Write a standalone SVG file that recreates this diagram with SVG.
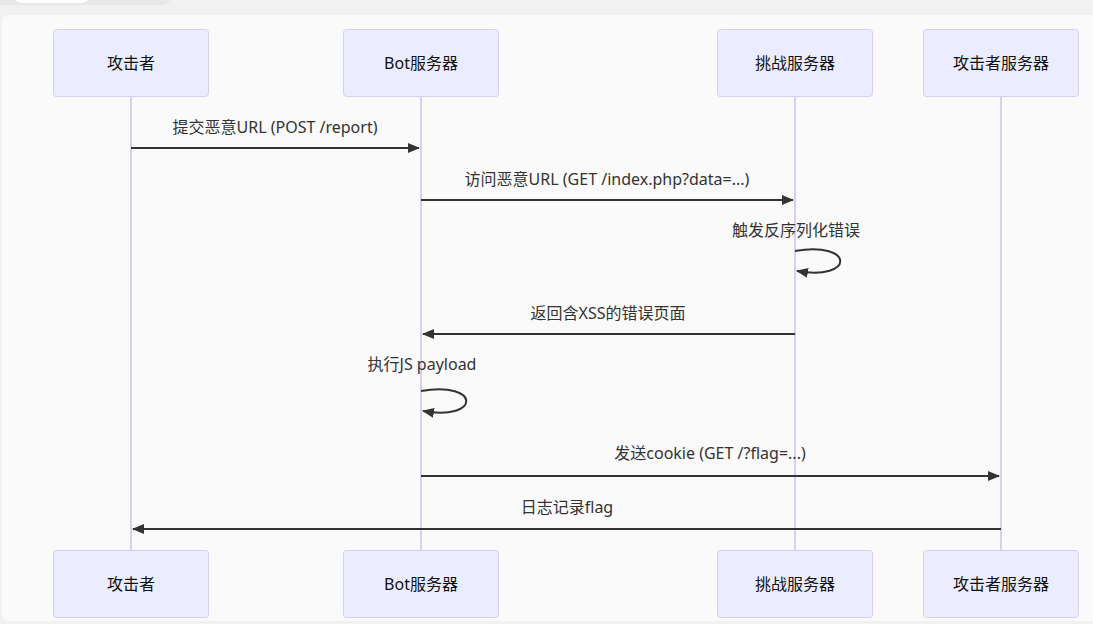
<svg xmlns="http://www.w3.org/2000/svg" width="1093" height="624" viewBox="0 0 1093 624">
<style>
.actor{fill:#ECECFF;stroke:#dacef3;stroke-width:1}
.atext{font-family:"Noto Sans","Noto Sans CJK SC",sans-serif;font-size:16px;fill:#111;text-anchor:middle;dominant-baseline:central}
.life{stroke:#dacef3;stroke-width:2}
.msg{stroke:#333;stroke-width:2;fill:none}
.mtext{font-family:"Noto Sans","Noto Sans CJK SC",sans-serif;font-size:16px;fill:#333;text-anchor:middle}
</style>
<defs>
<marker id="arrow" viewBox="0 0 12 10" refX="11" refY="5" markerWidth="12" markerHeight="10" markerUnits="userSpaceOnUse" orient="auto">
<path d="M0,0 L12,5 L0,10 z" fill="#333"/>
</marker>
</defs>
<rect x="0" y="0" width="1093" height="624" fill="#f1f1f1"/>
<rect x="2" y="15" width="1100" height="606" rx="6" fill="#fafafa"/>
<rect x="-10" y="-10" width="180" height="15" rx="7" fill="#e8e8e8"/>
<rect x="15" y="-10" width="73" height="13" rx="6" fill="#ffffff"/>
<g id="lifelines">
<line class="life" x1="131" y1="96" x2="131" y2="550"/>
<line class="life" x1="421" y1="96" x2="421" y2="550"/>
<line class="life" x1="795" y1="96" x2="795" y2="550"/>
<line class="life" x1="1001" y1="96" x2="1001" y2="550"/>
</g>
<g id="actor-attacker-top"><rect class="actor" x="53.5" y="29.5" width="155" height="67" rx="3"/><text class="atext" x="131" y="63">攻击者</text></g>
<g id="actor-bot-top"><rect class="actor" x="343.5" y="29.5" width="155" height="67" rx="3"/><text class="atext" x="421" y="63">Bot服务器</text></g>
<g id="actor-challenge-top"><rect class="actor" x="717.5" y="29.5" width="155" height="67" rx="3"/><text class="atext" x="795" y="63">挑战服务器</text></g>
<g id="actor-attackersrv-top"><rect class="actor" x="923.5" y="29.5" width="155" height="67" rx="3"/><text class="atext" x="1001" y="63">攻击者服务器</text></g>
<g id="actor-attacker-bottom"><rect class="actor" x="53.5" y="550.5" width="155" height="67" rx="3"/><text class="atext" x="131" y="584">攻击者</text></g>
<g id="actor-bot-bottom"><rect class="actor" x="343.5" y="550.5" width="155" height="67" rx="3"/><text class="atext" x="421" y="584">Bot服务器</text></g>
<g id="actor-challenge-bottom"><rect class="actor" x="717.5" y="550.5" width="155" height="67" rx="3"/><text class="atext" x="795" y="584">挑战服务器</text></g>
<g id="actor-attackersrv-bottom"><rect class="actor" x="923.5" y="550.5" width="155" height="67" rx="3"/><text class="atext" x="1001" y="584">攻击者服务器</text></g>
<g id="connectors">
<line class="msg" x1="131" y1="148" x2="419" y2="148" marker-end="url(#arrow)"/>
<text class="mtext" x="275" y="133">提交恶意URL (POST /report)</text>
<line class="msg" x1="421" y1="200" x2="793" y2="200" marker-end="url(#arrow)"/>
<text class="mtext" x="607" y="185">访问恶意URL (GET /index.php?data=...)</text>
<path class="msg" d="M795,251 C855,241 855,281 797,271" marker-end="url(#arrow)"/>
<text class="mtext" x="796" y="236">触发反序列化错误</text>
<line class="msg" x1="795" y1="334" x2="423" y2="334" marker-end="url(#arrow)"/>
<text class="mtext" x="608" y="319">返回含XSS的错误页面</text>
<path class="msg" d="M421,391 C481,381 481,421 423,411" marker-end="url(#arrow)"/>
<text class="mtext" x="422" y="370">执行JS payload</text>
<line class="msg" x1="421" y1="476" x2="999" y2="476" marker-end="url(#arrow)"/>
<text class="mtext" x="710" y="459">发送cookie (GET /?flag=...)</text>
<line class="msg" x1="1001" y1="529" x2="133" y2="529" marker-end="url(#arrow)"/>
<text class="mtext" x="567" y="513">日志记录flag</text>
</g>
</svg>
